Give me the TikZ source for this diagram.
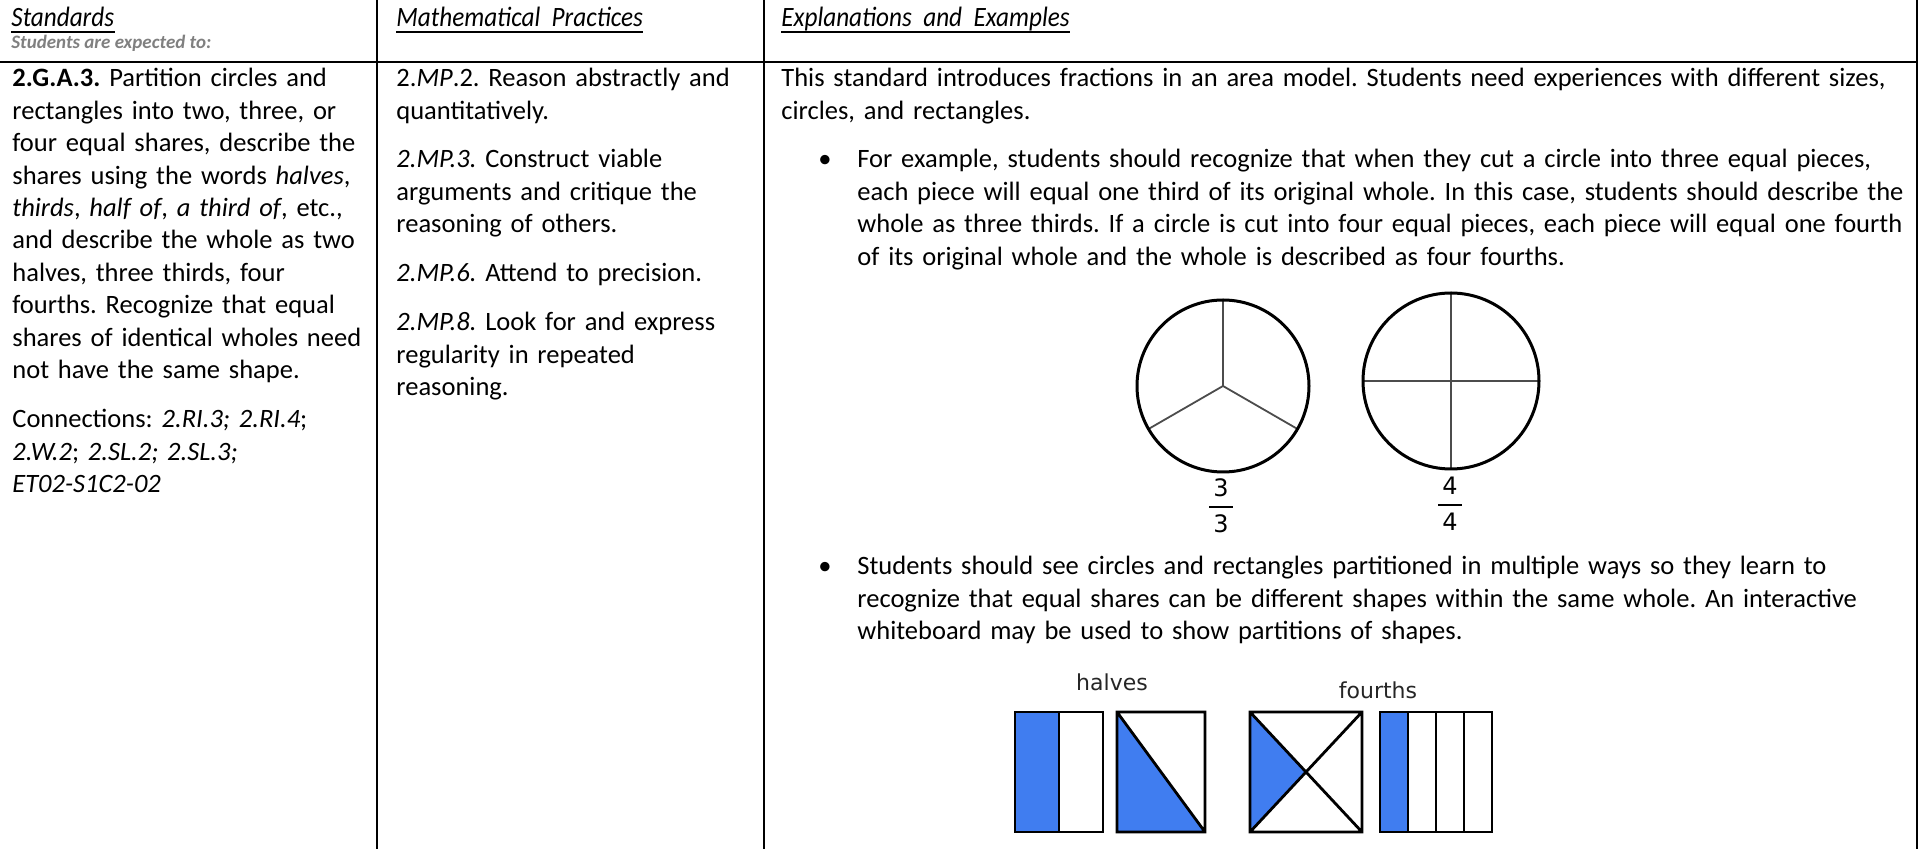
\documentclass[tikz,border=0pt]{standalone}
\usepackage{amsmath}
\usepackage{fontspec}
\setmainfont{Carlito}
\newfontfamily\headfamily[FakeStretch=0.9]{Carlito}
\newfontfamily\figfont{DejaVu Sans}
\usetikzlibrary{positioning}
\definecolor{shadeblue}{RGB}{64,125,240}
\definecolor{notegray}{RGB}{128,128,128}
\newcommand{\bodyfont}{\fontsize{13.25}{16.2}\selectfont}
\newcommand{\headfont}{\fontsize{14}{16}\selectfont\headfamily\itshape}
\frenchspacing
\tikzset{
  rule/.style={line width=1.3pt},
  uline/.style={line width=0.9pt},
  head/.style={anchor=base west, inner sep=0pt, font=\headfont},
  note/.style={anchor=base west, inner sep=0pt, text=notegray, font=\fontsize{9.5}{11}\selectfont\bfseries\itshape},
  body/.style={anchor=base west, inner sep=0pt, font=\bodyfont, text width=#1, align=left},
  body/.default=220pt,
  dot/.style={anchor=base west, inner sep=0pt, font=\bodyfont},
  pie/.style={draw=black, line width=1.5pt},
  spoke/.style={draw=black!70, line width=0.9pt},
  part/.style={draw=black, line width=1.4pt},
  shade/.style={fill=shadeblue},
  frac/.style={inner sep=0pt, font=\fontsize{12}{14}\selectfont\figfont},
  lbl/.style={inner sep=0pt, text=black!85, font=\fontsize{11}{13}\selectfont\figfont}
}
\begin{document}
\begin{tikzpicture}[x=0.5pt,y=-0.5pt]
  \fill[white] (0,0) rectangle (1919,849);
  \useasboundingbox (0,0) rectangle (1919,849);

  % table rules
  \draw[rule] (0,62) -- (1917,62);
  \draw[rule] (377,0) -- (377,849);
  \draw[rule] (764,0) -- (764,849);
  \draw[rule] (1917,0) -- (1917,849);

  % header row
  \node[head] (hstd) at (11,27) {Standards};
  \node[head] (hmp) at (396,27) {Mathematical\ \ Practices};
  \node[head] (hex) at (781,27) {Explanations\ \ and\ \ Examples};
  \foreach \h in {hstd,hmp,hex}
    \draw[uline] ([yshift=-2.6pt]\h.base west) -- ([yshift=-2.6pt]\h.base east);
  \node[note] (expect) at (11,49) {Students are expected to:};

  % standards column
  \node[body] (std) at (12,87) {\textbf{2.G.A.3.} Partition circles and\\
    rectangles into two, three, or\\
    four equal shares, describe the\\
    shares using the words \textit{halves},\\
    \textit{thirds}, \textit{half of}, \textit{a third of}, etc.,\\
    and describe the whole as two\\
    halves, three thirds, four\\
    fourths. Recognize that equal\\
    shares of identical wholes need\\
    not have the same shape.};
  \node[body] (conn) at (12,428) {Connections: \textit{2.RI.3; 2.RI.4};\\
    \textit{2.W.2}; \textit{2.SL.2; 2.SL.3;}\\
    \textit{ET02-S1C2-02}};

  % practices column
  \node[body] (mp2) at (396,87) {2.\textit{MP}.2. Reason abstractly and\\ quantitatively.};
  \node[body] (mp3) at (396,168) {\textit{2.MP.3.} Construct viable\\ arguments and critique the\\ reasoning of others.};
  \node[body] (mp6) at (396,282) {\textit{2.MP.6.} Attend to precision.};
  \node[body] (mp8) at (396,331) {\textit{2.MP.8.} Look for and express\\ regularity in repeated\\ reasoning.};

  % explanations column
  \node[body=600pt] (intro) at (781,87) {This standard introduces fractions in an area model. Students need experiences with different sizes,\\
    circles, and rectangles.};
  \node[dot] (bulA) at (818,168) {\textbullet};
  \node[body=560pt] (exA) at (857,168) {For example, students should recognize that when they cut a circle into three equal pieces,\\
    each piece will equal one third of its original whole. In this case, students should describe the\\
    whole as three thirds. If a circle is cut into four equal pieces, each piece will equal one fourth\\
    of its original whole and the whole is described as four fourths.};
  \node[dot] (bulB) at (818,575) {\textbullet};
  \node[body=560pt] (exB) at (857,575) {Students should see circles and rectangles partitioned in multiple ways so they learn to\\
    recognize that equal shares can be different shapes within the same whole. An interactive\\
    whiteboard may be used to show partitions of shapes.};

  % circles
  \coordinate (cthird) at (1223,386);
  \coordinate (cfourth) at (1451,381);
  \foreach \a in {270,150,30}
    \draw[spoke] (cthird) -- ++(\a:86);
  \draw[pie] (cthird) circle (86);
  \draw[spoke] (cfourth) ++(-88,0) -- ++(176,0) (cfourth) ++(0,-88) -- ++(0,176);
  \draw[pie] (cfourth) circle (88);
  \node[frac] (fthree) at (1221,506) {$\genfrac{}{}{1.2pt}{0}{\text{\,3\,}}{\text{\,3\,}}$};
  \node[frac] (ffour) at (1450,504) {$\genfrac{}{}{1.2pt}{0}{\text{\,4\,}}{\text{\,4\,}}$};

  % halves and fourths
  \node[lbl] (halves) at (1112,682) {halves};
  \node[lbl] (fourths) at (1378,690) {fourths};
  \begin{scope}[shift={(1015,712)}]
    \fill[shade] (0,0) rectangle (44,120);
    \draw[part] (0,0) rectangle (88,120) (44,0) -- (44,120);
  \end{scope}
  \begin{scope}[shift={(1117,712)}]
    \fill[shade] (0,0) -- (88,120) -- (0,120) -- cycle;
    \draw[part] (0,0) rectangle (88,120) (0,0) -- (88,120);
  \end{scope}
  \begin{scope}[shift={(1250,712)}]
    \fill[shade] (0,0) -- (56,60) -- (0,120) -- cycle;
    \draw[part] (0,0) rectangle (112,120) (0,0) -- (112,120) (0,120) -- (112,0);
  \end{scope}
  \begin{scope}[shift={(1380,712)}]
    \fill[shade] (0,0) rectangle (28,120);
    \draw[part] (0,0) rectangle (112,120);
    \foreach \s in {1,2,3}
      \draw[part] (28*\s,0) -- ++(0,120);
  \end{scope}
\end{tikzpicture}
\end{document}
